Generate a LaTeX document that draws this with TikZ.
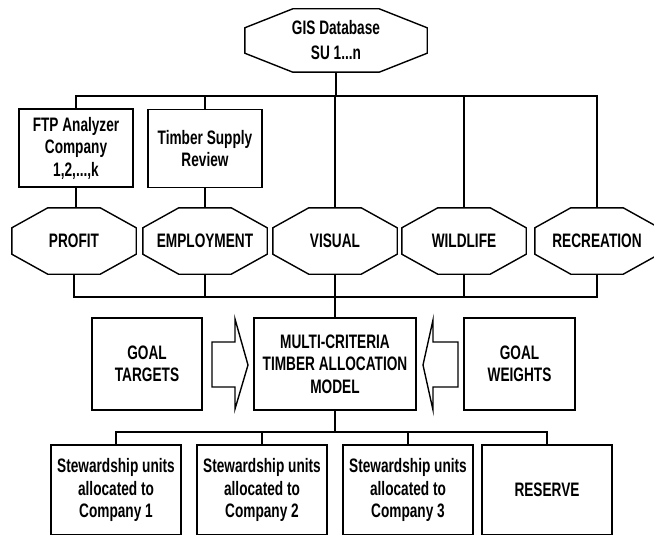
\documentclass[tikz,border=0pt]{standalone}
\usepackage{fontspec}
\setmainfont{Liberation Sans}[FakeStretch=0.7]
\usetikzlibrary{calc}

% octagon outline drawn around a (frameless) rectangular node
\newcommand\octframe[3]{%
  \draw[frame] ($(#1.north west)+(#2,0)$) -- ($(#1.north east)+(-#2,0)$)
    -- ($(#1.north east)+(0,#3)$) -- ($(#1.south east)+(0,-#3)$)
    -- ($(#1.south east)+(-#2,0)$) -- ($(#1.south west)+(#2,0)$)
    -- ($(#1.south west)+(0,-#3)$) -- ($(#1.north west)+(0,#3)$) -- cycle;}

\begin{document}
\begin{tikzpicture}[x=1pt,y=-1pt,
  frame/.style={line width=1.4pt, line join=miter},
  wire/.style={line width=1.3pt},
  lbl/.style={font=\fontsize{19.5}{22.5}\selectfont\bfseries, align=center, inner sep=0pt},
  boxnode/.style={lbl, draw, line width=1.4pt, minimum width=#1},
  octnode/.style={lbl, minimum width=124pt, minimum height=66pt},
]
\useasboundingbox (0,0) rectangle (654,535);
\clip (-2,-2) rectangle (656,534);

% source database
\node[lbl, font=\fontsize{19.5}{25}\selectfont\bfseries, minimum width=182pt, minimum height=63pt] (gis) at (336,40.5) {GIS Database\\SU 1...n};
\octframe{gis}{48}{19}

% supporting analyses
\node[boxnode=114pt, minimum height=78pt] (ftp) at (76,148) {FTP Analyzer\\Company\\1,2,...,k};
\node[boxnode=114pt, minimum height=78pt] (tsr) at (205,148.5) {Timber Supply\\Review};

% criteria
\node[octnode] (profit) at (74,241) {PROFIT};
\node[octnode] (employ) at (205,241) {EMPLOYMENT};
\node[octnode] (visual) at (335,241) {VISUAL};
\node[octnode] (wild)   at (464,241) {WILDLIFE};
\node[octnode] (recr)   at (597,241) {RECREATION};
\foreach \n in {profit,employ,visual,wild,recr} {\octframe{\n}{36}{20}}

% model and its inputs
\node[boxnode=110pt, minimum height=92pt] (targets) at (147,364) {GOAL\\TARGETS};
\node[boxnode=162pt, minimum height=92pt] (model) at (335,364) {MULTI-CRITERIA\\TIMBER ALLOCATION\\MODEL};
\node[boxnode=111pt, minimum height=92pt] (weights) at (519.5,364) {GOAL\\WEIGHTS};

% outcomes
\node[boxnode=130pt, minimum height=90pt] (su1) at (116,490) {Stewardship units\\allocated to\\Company 1};
\node[boxnode=130pt, minimum height=90pt] (su2) at (262,490) {Stewardship units\\allocated to\\Company 2};
\node[boxnode=130pt, minimum height=90pt] (su3) at (408,490) {Stewardship units\\allocated to\\Company 3};
\node[boxnode=130pt, minimum height=90pt] (res) at (547,490) {RESERVE};

% bus levels
\coordinate (busA) at (0,96);
\coordinate (busB) at (0,297);
\coordinate (busC) at (0,432);

% database feeds every analysis
\draw[wire] (gis.south) -- (gis.south |- busA);
\draw[wire] (ftp.north) -- (ftp.north |- busA) -- (recr.north |- busA) -- (recr.north);
\foreach \n in {tsr,visual,wild} {\draw[wire] (\n.north) -- (\n.north |- busA);}
\draw[wire] (ftp.south) -- (ftp.south |- profit.north);
\draw[wire] (tsr.south) -- (tsr.south |- employ.north);

% criteria gathered into the model
\draw[wire] (profit.south) -- (profit.south |- busB) -- (recr.south |- busB) -- (recr.south);
\foreach \n in {employ,wild} {\draw[wire] (\n.south) -- (\n.south |- busB);}
\draw[wire] (visual.south) -- (visual.south |- model.north);

% model outputs
\draw[wire] (model.south) -- (model.south |- busC);
\draw[wire] (su1.north) -- (su1.north |- busC) -- (res.north |- busC) -- (res.north);
\foreach \n in {su2,su3} {\draw[wire] (\n.north) -- (\n.north |- busC);}

% block arrows into the model
\draw[frame] (212,342) -- (235,342) -- (235,319) -- (248,365) -- (235,409) -- (235,387) -- (212,387) -- cycle;
\draw[frame] (458,342) -- (433,342) -- (433,320) -- (423,365) -- (433,410) -- (433,387) -- (458,387) -- cycle;
\end{tikzpicture}
\end{document}
